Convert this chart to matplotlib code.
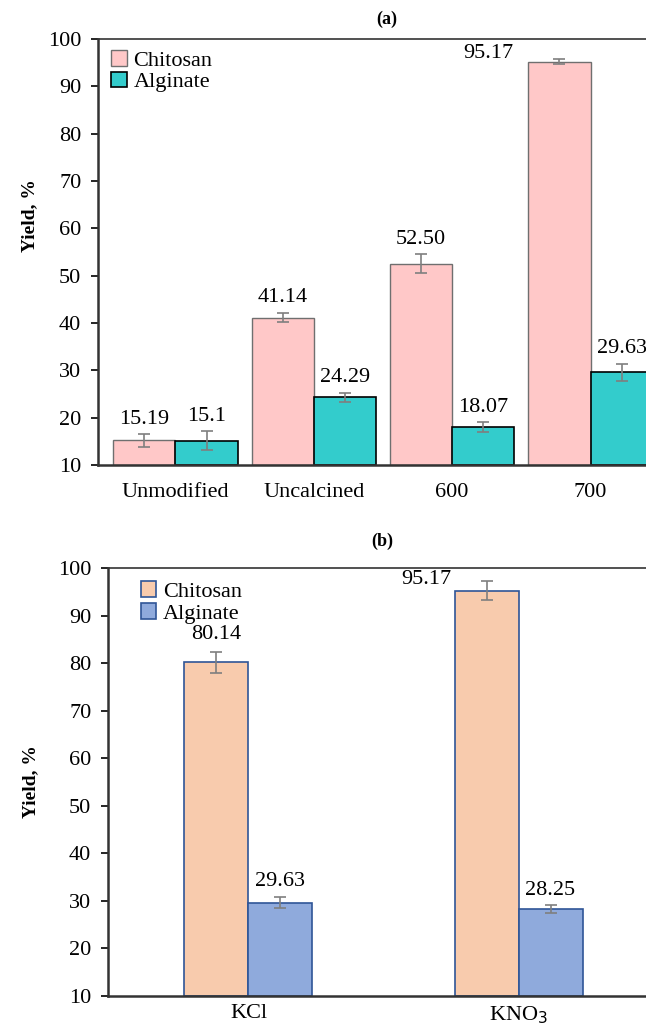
import numpy as np
import matplotlib
matplotlib.use("Agg")
import matplotlib.pyplot as plt

plt.rcParams['font.family'] = ['Liberation Serif', 'DejaVu Serif']

# panel (a)
cats_a = ["Unmodified", "Uncalcined", "600", "700"]
chit_a = [15.19, 41.14, 52.50, 95.17]
alg_a = [15.1, 24.29, 18.07, 29.63]
chit_a_err = [1.3, 1.0, 2.0, 0.5]
alg_a_err = [2.0, 1.0, 1.0, 1.8]
chit_a_lbl = ["15.19", "41.14", "52.50", "95.17"]
alg_a_lbl = ["15.1", "24.29", "18.07", "29.63"]

# panel (b)
cats_b = ["KCl", "KNO$_3$"]
chit_b = [80.14, 95.17]
alg_b = [29.63, 28.25]
chit_b_err = [2.2, 2.0]
alg_b_err = [1.2, 0.8]
chit_b_lbl = ["80.14", "95.17"]
alg_b_lbl = ["29.63", "28.25"]

fs = 16
fig = plt.figure(figsize=(6.46, 10.27), dpi=100)

ekw = dict(ecolor="#7f7f7f", elinewidth=1.2, capsize=4, capthick=1.2)

# ---- (a)
ax1 = fig.add_axes([98/646, 1-465/1027, 570/646, 426/1027])
x = np.arange(len(cats_a))
w = 0.45
ax1.bar(x - w/2, np.array(chit_a) - 10, w, bottom=10, color="#FFC8C8",
        edgecolor="#6f6f6f", linewidth=1, yerr=chit_a_err, error_kw=ekw, label="Chitosan")
ax1.bar(x + w/2, np.array(alg_a) - 10, w, bottom=10, color="#33CCCC",
        edgecolor="black", linewidth=1.2, yerr=alg_a_err, error_kw=ekw, label="Alginate")
for i in range(len(cats_a)):
    if i == 3:
        ax1.annotate(chit_a_lbl[i], (x[i] - w, chit_a[i]), xytext=(-11, 6),
                     textcoords="offset points", ha="right", va="center", fontsize=fs)
    else:
        ax1.annotate(chit_a_lbl[i], (x[i] - w/2, chit_a[i] + chit_a_err[i]), xytext=(0, 4),
                     textcoords="offset points", ha="center", va="bottom", fontsize=fs)
    ax1.annotate(alg_a_lbl[i], (x[i] + w/2, alg_a[i] + alg_a_err[i]), xytext=(0, 4),
                 textcoords="offset points", ha="center", va="bottom", fontsize=fs)
ax1.set_ylim(10, 100)
ax1.set_xlim(-0.56, 3.56)
ax1.set_yticks(range(10, 101, 10))
ax1.set_xticks(x)
ax1.set_xticklabels(cats_a, fontsize=fs)
ax1.tick_params(axis="y", labelsize=fs, length=5, width=1.2, pad=7)
ax1.tick_params(axis="x", length=0, pad=13)
ax1.set_ylabel("Yield, %", fontsize=14, fontweight="bold")
ax1.yaxis.set_label_coords(-0.105, 0.585)
ax1.set_title("(a)", fontsize=13, fontweight="bold", x=(387-98)/570, pad=11)
for s in ["left", "bottom"]:
    ax1.spines[s].set_linewidth(1.8)
    ax1.spines[s].set_color("#333333")
ax1.spines["top"].set_linewidth(1.2)
ax1.spines["top"].set_color("#333333")
ax1.spines["right"].set_visible(False)
ax1.legend(loc="upper left", bbox_to_anchor=(0.0, 1.005), frameon=False, fontsize=fs,
           handlelength=0.7, handleheight=0.7, handletextpad=0.3, labelspacing=0.05,
           borderaxespad=0.2)

# ---- (b)
ax2 = fig.add_axes([108/646, 1-996/1027, 551/646, 428/1027])
x2 = np.arange(len(cats_b))
w2 = 0.237
ax2.bar(x2 - w2/2, np.array(chit_b) - 10, w2, bottom=10, color="#F8CBAD",
        edgecolor="#2F5597", linewidth=1.2, yerr=chit_b_err, error_kw=ekw, label="Chitosan")
ax2.bar(x2 + w2/2, np.array(alg_b) - 10, w2, bottom=10, color="#8FAADC",
        edgecolor="#2F5597", linewidth=1.2, yerr=alg_b_err, error_kw=ekw, label="Alginate")
for i in range(len(cats_b)):
    if i == 1:
        ax2.annotate(chit_b_lbl[i], (x2[i] - w2, chit_b[i]), xytext=(-2, 8),
                     textcoords="offset points", ha="right", va="center", fontsize=fs)
    else:
        ax2.annotate(chit_b_lbl[i], (x2[i] - w2/2, chit_b[i] + chit_b_err[i]), xytext=(0, 6),
                     textcoords="offset points", ha="center", va="bottom", fontsize=fs)
    ax2.annotate(alg_b_lbl[i], (x2[i] + w2/2, alg_b[i] + alg_b_err[i]), xytext=(0, 4),
                 textcoords="offset points", ha="center", va="bottom", fontsize=fs)
ax2.set_ylim(10, 100)
ax2.set_xlim(-0.52, 1.52)
ax2.set_yticks(range(10, 101, 10))
ax2.set_xticks(x2)
ax2.set_xticklabels(cats_b, fontsize=fs)
ax2.tick_params(axis="y", labelsize=fs, length=5, width=1.2, pad=7)
ax2.tick_params(axis="x", length=0, pad=6)
ax2.set_ylabel("Yield, %", fontsize=14, fontweight="bold")
ax2.yaxis.set_label_coords(-0.125, 0.5)
ax2.set_title("(b)", fontsize=13, fontweight="bold", x=(382-108)/551, pad=16)
for s in ["left", "bottom"]:
    ax2.spines[s].set_linewidth(1.8)
    ax2.spines[s].set_color("#333333")
ax2.spines["top"].set_linewidth(1.2)
ax2.spines["top"].set_color("#333333")
ax2.spines["right"].set_visible(False)
ax2.legend(loc="upper left", bbox_to_anchor=(0.035, 1.0), frameon=False, fontsize=fs,
           handlelength=0.7, handleheight=0.7, handletextpad=0.3, labelspacing=0.05,
           borderaxespad=0.2)

fig.savefig("out.png", dpi=100)
